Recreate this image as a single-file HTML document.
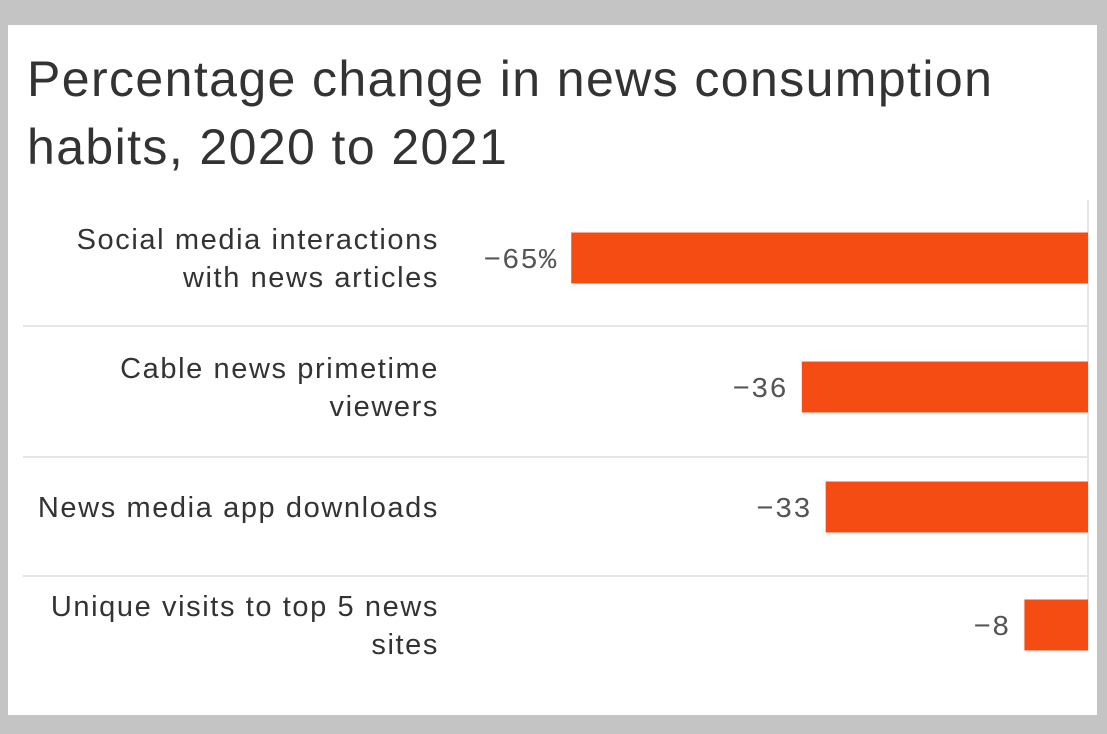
<!DOCTYPE html>
<html><head><meta charset="utf-8"><style>
body{margin:0;width:1107px;height:734px;background:#c4c4c4;overflow:hidden;font-family:"Liberation Sans",sans-serif}
#card{position:absolute;left:8px;top:25px;width:1089px;height:690px;background:#fff}
#title{position:absolute;left:27px;top:45px;margin:0;font-size:50px;letter-spacing:1.4px;font-weight:normal;line-height:68px;color:#333;white-space:nowrap}
</style></head><body>
<div id="card"></div>
<h1 id="title">Percentage change in news consumption<br>habits, 2020 to 2021</h1>
<svg id="chart" width="1107" height="734" style="position:absolute;left:0;top:0"></svg>
<script>
const categories=[["Social media interactions","with news articles"],["Cable news primetime","viewers"],["News media app downloads"],["Unique visits to top 5 news","sites"]];
const values=[-65,-36,-33,-8];
const valueLabels=["\u221265%","\u221236","\u221233","\u22128"];
const svg=document.getElementById('chart');
const NS='http://www.w3.org/2000/svg';
const zeroX=1088, scale=7.95;
const x=v=>zeroX+v*scale;
const rowTop=[200,326,457,576];
const centers=[258,387,507,625];
function mk(t,a){const e=document.createElementNS(NS,t);for(const k in a)e.setAttribute(k,a[k]);svg.appendChild(e);return e;}
const zl=mk('line',{x1:zeroX,x2:zeroX,y1:200,y2:651,stroke:'#e6e6e6','stroke-width':2});


categories.forEach((c,i)=>{
  const yc=centers[i];
  if(i>0){const s=mk('line',{x1:23,x2:zeroX,y1:rowTop[i],y2:rowTop[i],stroke:'#e6e6e6','stroke-width':2});
    
    }
  const b=mk('rect',{x:x(values[i]),y:yc-25.5,width:zeroX-x(values[i]),height:51,fill:'#f54c14'});
  
  
  const t=mk('text',{x:x(values[i])-14,y:yc+10,'text-anchor':'end','font-size':29,fill:'#555','font-family':'Liberation Mono, monospace','letter-spacing':'1'});
  t.textContent=valueLabels[i];
  
  
  const lab=mk('text',{x:439,'text-anchor':'end','font-size':29,fill:'#333','letter-spacing':'1.6'});
  
  
  const n=c.length, y0=yc+10-(n-1)*19;
  c.forEach((ln,j)=>{const ts=document.createElementNS(NS,'tspan');ts.setAttribute('x',439);ts.setAttribute('y',y0+j*38);ts.textContent=ln;lab.appendChild(ts);});
});
</script>
</body></html>
